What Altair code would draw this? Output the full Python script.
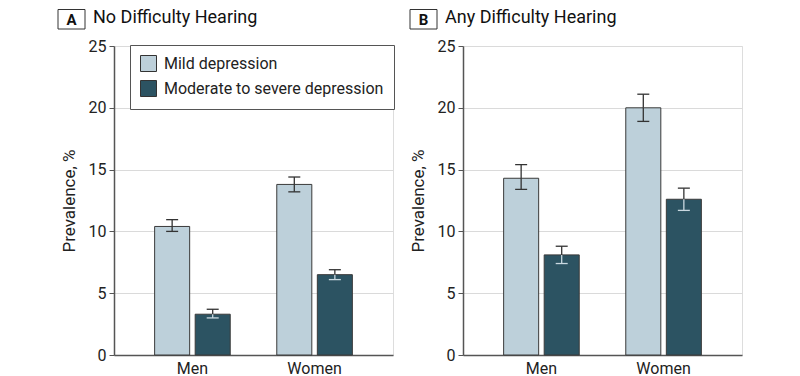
import altair as alt
import pandas as pd

groups = ["Men", "Women"]
severity = ["Mild depression", "Moderate to severe depression"]
panel_letters = ["A", "B"]
panel_titles = ["No Difficulty Hearing", "Any Difficulty Hearing"]
y_ticks = [0, 5, 10, 15, 20, 25]

# order: Men-mild, Men-moderate, Women-mild, Women-moderate
a_prev = [10.4, 3.3, 13.8, 6.5]
a_lower = [10.0, 3.0, 13.2, 6.1]
a_upper = [10.95, 3.7, 14.4, 6.9]

b_prev = [14.3, 8.1, 20.0, 12.6]
b_lower = [13.4, 7.4, 18.9, 11.7]
b_upper = [15.4, 8.8, 21.1, 13.5]

LIGHT = "#bdd0da"
DARK = "#2c5362"
INK = "#333333"
FONT = "Roboto"


def make_df(prev, lo, hi):
    rows = []
    i = 0
    for g in groups:
        for s in severity:
            rows.append(dict(sex=g, severity=s, value=prev[i], lower=lo[i], upper=hi[i]))
            i += 1
    return pd.DataFrame(rows)


def panel(df, letter, title, show_legend, box_x):
    x = alt.X("sex:N", sort=groups, title=None,
              scale=alt.Scale(paddingInner=0.336, paddingOuter=0.31),
              axis=alt.Axis(labelAngle=0, ticks=False, labelPadding=5, labelFontSize=16,
                            labelColor="#222", domainColor="#555", domainWidth=1.5, grid=False))
    xo = alt.XOffset("severity:N", sort=severity,
                     scale=alt.Scale(paddingInner=0.136, paddingOuter=0.068))
    yaxis = alt.Axis(values=y_ticks, labelFontSize=16, labelColor="#222", labelPadding=3,
                     tickSize=5, tickColor="#555", domainColor="#555", domainWidth=1.5,
                     gridColor="#dadada", gridWidth=1, titleFontSize=17, titleFontWeight="normal",
                     titleColor="#222", titlePadding=10)
    yscale = alt.Scale(domain=[0, 25], nice=False)
    ttl = "Prevalence, %"

    if show_legend:
        legend = alt.Legend(title=None, orient="none", legendX=16, legendY=-1,
                            fillColor="white", strokeColor="#555", padding=10,
                            symbolType="square", symbolSize=256, symbolStrokeColor="#333",
                            symbolStrokeWidth=1, symbolOpacity=1, labelFontSize=16,
                            labelColor="#222", rowPadding=4, labelOffset=7, labelLimit=0)
    else:
        legend = None

    base = alt.Chart(df)
    bars = base.mark_bar(stroke="#3a3a3a", strokeWidth=1).encode(
        x=x, xOffset=xo,
        y=alt.Y("value:Q", title=ttl, scale=yscale, axis=yaxis),
        color=alt.Color("severity:N", sort=severity,
                        scale=alt.Scale(domain=severity, range=[LIGHT, DARK]), legend=legend),
    )
    inner = alt.condition("datum.severity == 'Mild depression'", alt.value(INK), alt.value("#c9d8e0"))
    up_rule = base.mark_rule(color=INK, strokeWidth=1.3).encode(
        x=x, xOffset=xo, y=alt.Y("value:Q", title=ttl), y2="upper:Q")
    lo_rule = base.mark_rule(strokeWidth=1.3).encode(
        x=x, xOffset=xo, y=alt.Y("lower:Q", title=ttl), y2="value:Q", color=inner)
    up_cap = base.mark_tick(size=12, thickness=1.3, color=INK, opacity=1).encode(
        x=x, xOffset=xo, y=alt.Y("upper:Q", title=ttl))
    lo_cap = base.mark_tick(size=12, thickness=1.3, opacity=1).encode(
        x=x, xOffset=xo, y=alt.Y("lower:Q", title=ttl), color=inner)

    tdf = pd.DataFrame({"letter": [letter], "title": [title]})
    tb = alt.Chart(tdf)
    box = tb.mark_rect(fill="white", stroke=INK, strokeWidth=1).encode(
        x=alt.value(box_x), x2=alt.value(box_x + 27), y=alt.value(-36.5), y2=alt.value(-17))
    let = tb.mark_text(fontSize=15, fontWeight="bold", align="center", baseline="middle",
                       color="#111").encode(
        x=alt.value(box_x + 13.5), y=alt.value(-26.5), text="letter:N")
    head = tb.mark_text(fontSize=18, align="left", baseline="alphabetic", color="#111").encode(
        x=alt.value(box_x + 35), y=alt.value(-23), text="title:N")

    return alt.layer(bars, up_rule, lo_rule, up_cap, lo_cap, box, let, head).properties(
        width=279, height=309)


pa = panel(make_df(a_prev, a_lower, a_upper), panel_letters[0], panel_titles[0], True, -56)
pb = panel(make_df(b_prev, b_lower, b_upper), panel_letters[1], panel_titles[1], False, -53)

chart = alt.hconcat(pa, pb, spacing=13).resolve_scale(color="independent").properties(
    padding={"left": 49, "top": 0, "right": 5, "bottom": 0}
).configure_view(stroke=None).configure(font=FONT)

chart.save("out.html", embed_options={"renderer": "svg", "actions": False})
